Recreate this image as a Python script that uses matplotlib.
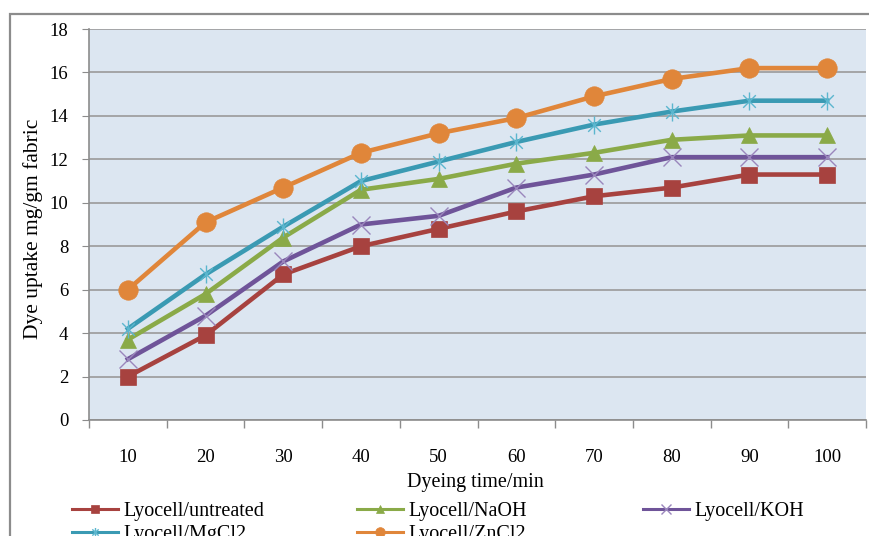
import matplotlib
matplotlib.use("Agg")
import matplotlib.pyplot as plt
import matplotlib.patches as mpatches
from matplotlib.lines import Line2D
from matplotlib.path import Path
import numpy as np

# data
times = [10, 20, 30, 40, 50, 60, 70, 80, 90, 100]
untreated = [2.0, 3.9, 6.7, 8.0, 8.8, 9.6, 10.3, 10.7, 11.3, 11.3]
naoh = [3.7, 5.8, 8.4, 10.6, 11.1, 11.8, 12.3, 12.9, 13.1, 13.1]
koh = [2.8, 4.8, 7.3, 9.0, 9.4, 10.7, 11.3, 12.1, 12.1, 12.1]
mgcl2 = [4.2, 6.7, 8.9, 11.0, 11.9, 12.8, 13.6, 14.2, 14.7, 14.7]
zncl2 = [6.0, 9.1, 10.7, 12.3, 13.2, 13.9, 14.9, 15.7, 16.2, 16.2]

plt.rcParams["font.family"] = ["Liberation Serif", "DejaVu Serif"]

# Excel-style asterisk: vertical bar plus an X
star = Path(
    [(0, -1), (0, 1), (-0.7, -0.7), (0.7, 0.7), (-0.7, 0.7), (0.7, -0.7)],
    [Path.MOVETO, Path.LINETO, Path.MOVETO, Path.LINETO, Path.MOVETO, Path.LINETO],
)

series = [
    ("Lyocell/untreated", untreated, "#A7423F", "s", "#A7423F", 12),
    ("Lyocell/NaOH", naoh, "#8AAA48", "^", "#8AAA48", 12),
    ("Lyocell/KOH", koh, "#6F5499", "x", "#9A86BC", 13),
    ("Lyocell/MgCl2", mgcl2, "#3A9AB3", star, "#5BB6CE", 13),
    ("Lyocell/ZnCl2", zncl2, "#E0863A", "o", "#E0863A", 14),
]

fig = plt.figure(figsize=(8.69, 5.36), dpi=100)
fig.patch.set_facecolor("white")

# outer chart frame
fig.patches.append(mpatches.Rectangle(
    (10 / 869, -0.1), 1.2, 1 - 14 / 536 + 0.1, transform=fig.transFigure,
    fill=False, edgecolor="#8C8C8C", linewidth=1.6))

ax = fig.add_axes((89 / 869, 1 - 420 / 536, (866 - 89) / 869, (420 - 29) / 536))
ax.set_facecolor("#DCE6F1")

x = np.arange(1, len(times) + 1)
handles = {}
for label, vals, color, marker, mcolor, ms in series:
    thin = marker in ("x",) or marker is star
    ax.plot(x, vals, color=color, linewidth=3.3, marker=marker, markersize=ms,
            markerfacecolor=mcolor, markeredgecolor=mcolor,
            markeredgewidth=1.0 if thin else 0.5, zorder=3)
    handles[label] = Line2D([], [], color=color, linewidth=2.2, marker=marker,
                            markersize=ms * 0.5, markerfacecolor=mcolor,
                            markeredgecolor=mcolor,
                            markeredgewidth=1.0 if thin else 0.5)

ax.set_ylim(0, 18)
ax.set_yticks(np.arange(0, 19, 2))
ax.yaxis.grid(True, color="#9A9A9A", linewidth=1.2)
ax.set_axisbelow(True)

ax.set_xlim(0.5, len(times) + 0.5)
ax.set_xticks(np.arange(0.5, len(times) + 1, 1))
ax.set_xticklabels([])
ax.set_xticks(x, minor=True)
ax.set_xticklabels([str(t) for t in times], minor=True)
ax.tick_params(axis="x", which="minor", length=0, pad=21, labelsize=13.5)
ax.tick_params(axis="x", which="major", direction="out", length=6,
               color="#8C8C8C", width=1)
ax.tick_params(axis="y", direction="out", length=5, color="#8C8C8C",
               labelsize=13.5, pad=10)

for side in ("top", "right"):
    ax.spines[side].set_visible(False)
for side in ("left", "bottom"):
    ax.spines[side].set_color("#8C8C8C")
    ax.spines[side].set_linewidth(1.2)

fig.text(475 / 869, 1 - 483 / 536, "Dyeing time/min", ha="center", va="center",
         fontsize=14.5)
fig.text(33 / 869, 1 - 229 / 536, "Dye uptake mg/gm fabric", ha="center",
         va="center", rotation=90, fontsize=15.5)

# legend laid out Excel-style, three columns, row-major
columns = [
    (72, ["Lyocell/untreated", "Lyocell/MgCl2"]),
    (357, ["Lyocell/NaOH", "Lyocell/ZnCl2"]),
    (643, ["Lyocell/KOH"]),
]
for xpix, labels in columns:
    leg = fig.legend([handles[l] for l in labels], labels,
                     loc="upper left", bbox_to_anchor=(xpix / 869, 1 - 502 / 536),
                     frameon=False, fontsize=14.5, handlelength=2.3,
                     handletextpad=0.25, borderpad=0, borderaxespad=0,
                     labelspacing=0.2)

fig.savefig("out.png", dpi=100, facecolor=fig.get_facecolor())
